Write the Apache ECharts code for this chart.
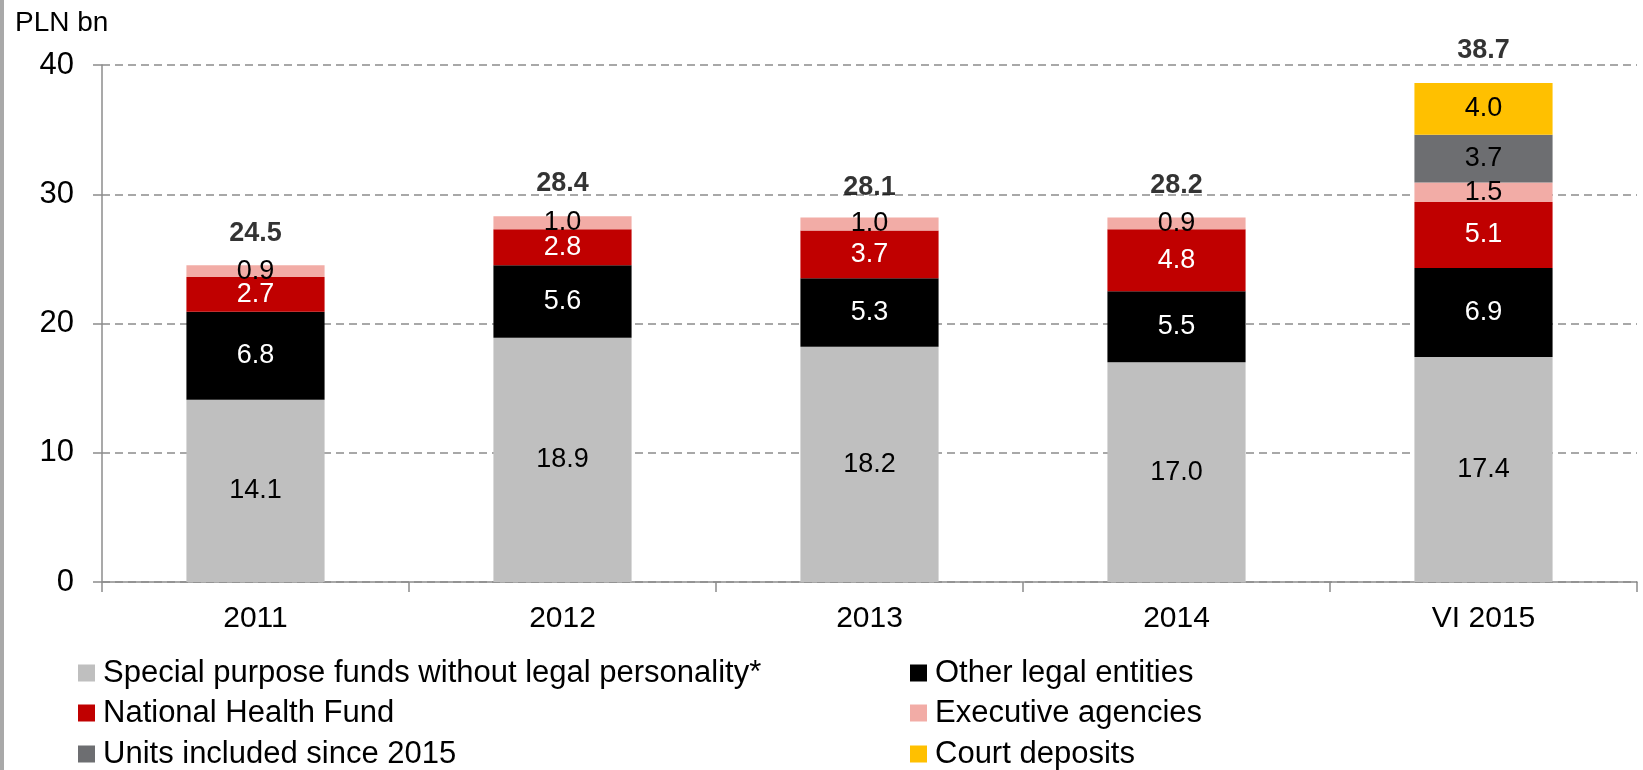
<!DOCTYPE html>
<html>
<head>
<meta charset="utf-8">
<script src="https://cdn.jsdelivr.net/npm/echarts@6/dist/echarts.min.js"></script>
<style>
  html, body { margin: 0; padding: 0; background: #fff; }
  #chart { width: 1643px; height: 770px; }
</style>
</head>
<body>
<div id="chart"></div>
<script>
// Public-sector unit deposits by holder group, PLN bn
const categories = ['2011', '2012', '2013', '2014', 'VI 2015'];
const specialFunds = [14.1, 18.9, 18.2, 17.0, 17.4];
const otherLegal = [6.8, 5.6, 5.3, 5.5, 6.9];
const healthFund = [2.7, 2.8, 3.7, 4.8, 5.1];
const execAgencies = [0.9, 1.0, 1.0, 0.9, 1.5];
const units2015 = [null, null, null, null, 3.7];
const courtDeposits = [null, null, null, null, 4.0];
const totals = [24.5, 28.4, 28.1, 28.2, 38.7];
const yTicks = [0, 10, 20, 30, 40];

const seriesNames = [
  'Special purpose funds without legal personality*',
  'Other legal entities',
  'National Health Fund',
  'Executive agencies',
  'Units included since 2015',
  'Court deposits'
];

const FONT = '"Liberation Sans", Arial, sans-serif';

function stackSeries(name, data, color, labelColor) {
  return {
    name: name,
    type: 'bar',
    stack: 'total',
    barWidth: '45%',
    data: data,
    itemStyle: { color: color },
    label: {
      show: true,
      position: 'inside',
      color: labelColor,
      fontFamily: FONT,
      fontSize: 27,
      formatter: p => (p.value == null ? '' : p.value.toFixed(1))
    },
    emphasis: { disabled: true }
  };
}

// Two-column legend: one legend component per entry, laid out row by row
const legendSlots = [
  { left: 78, rowY: 673 }, { left: 910, rowY: 673 },
  { left: 78, rowY: 713 }, { left: 910, rowY: 713 },
  { left: 78, rowY: 754 }, { left: 910, rowY: 754 }
];
const legends = seriesNames.map((name, i) => ({
  data: [name],
  left: legendSlots[i].left,
  top: legendSlots[i].rowY - 17,
  padding: 0,
  itemWidth: 17, itemHeight: 17, itemGap: 0, icon: 'rect',
  selectedMode: false,
  textStyle: { fontFamily: FONT, fontSize: 31, color: '#000', lineHeight: 34, padding: [0, 0, 0, 3] }
}));

const chart = echarts.init(document.getElementById('chart'), null, { renderer: 'canvas' });

chart.setOption({
  animation: false,
  backgroundColor: '#ffffff',
  graphic: [
    { type: 'rect', left: 0, top: 0, shape: { width: 4, height: 770 }, style: { fill: '#a9a9a9' } },
    {
      type: 'text', left: 15, top: 9,
      style: { text: 'PLN bn', font: '28px ' + FONT, fill: '#000' }
    }
  ],
  grid: { left: 102, right: 6, top: 65, bottom: 188, containLabel: false },
  legend: legends,
  xAxis: {
    type: 'category',
    data: categories,
    axisLine: { lineStyle: { color: '#8c8c8c', width: 1.5 } },
    axisTick: { show: true, length: 10, lineStyle: { color: '#8c8c8c', width: 1.5 } },
    axisLabel: { fontFamily: FONT, fontSize: 30, color: '#000', margin: 22 }
  },
  yAxis: {
    type: 'value',
    min: yTicks[0],
    max: yTicks[yTicks.length - 1],
    interval: 10,
    axisLine: { show: true, lineStyle: { color: '#8c8c8c', width: 1.5 } },
    axisTick: { show: true, length: 9, lineStyle: { color: '#8c8c8c', width: 1.5 } },
    axisLabel: { fontFamily: FONT, fontSize: 31, color: '#000', margin: 28 },
    splitLine: { show: true, lineStyle: { color: '#8c8c8c', width: 1.5, type: [8, 5] } }
  },
  series: [
    stackSeries(seriesNames[0], specialFunds, '#bfbfbf', '#000'),
    stackSeries(seriesNames[1], otherLegal, '#000000', '#fff'),
    stackSeries(seriesNames[2], healthFund, '#c00000', '#fff'),
    stackSeries(seriesNames[3], execAgencies, '#f2aca6', '#000'),
    stackSeries(seriesNames[4], units2015, '#6d6e71', '#000'),
    stackSeries(seriesNames[5], courtDeposits, '#ffc000', '#000'),
    {
      name: 'Total',
      type: 'scatter',
      data: totals,
      symbolSize: 0,
      silent: true,
      label: {
        show: true,
        position: 'top',
        distance: 18,
        fontFamily: FONT,
        fontWeight: 'bold',
        fontSize: 27,
        color: '#000',
        formatter: p => p.value.toFixed(1)
      }
    }
  ]
});
</script>
</body>
</html>
